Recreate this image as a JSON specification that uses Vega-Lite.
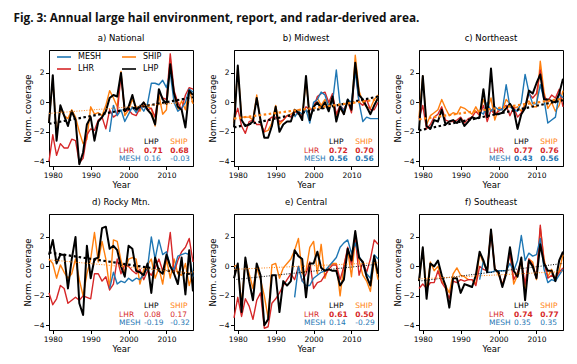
{
"$schema":"https://vega.github.io/schema/vega-lite/v6.json",
"padding":{"left":13,"top":13,"right":5,"bottom":3},
"title":{"text":"Fig. 3: Annual large hail environment, report, and radar-derived area.","anchor":"start","font":"Open Sans","fontSize":11.8,"fontWeight":"bold","color":"#111111","dx":-10,"offset":8},
"data":{"values":[
{"panel":"a","series":"LHP","year":1979,"value":-1.4},{"panel":"a","series":"LHP","year":1980,"value":1.85},{"panel":"a","series":"LHP","year":1981,"value":-2.6},{"panel":"a","series":"LHP","year":1982,"value":-0.2},{"panel":"a","series":"LHP","year":1983,"value":-0.9},{"panel":"a","series":"LHP","year":1984,"value":-1.6},{"panel":"a","series":"LHP","year":1985,"value":-0.6},{"panel":"a","series":"LHP","year":1986,"value":-1.2},{"panel":"a","series":"LHP","year":1987,"value":-4.2},{"panel":"a","series":"LHP","year":1988,"value":-3.4},{"panel":"a","series":"LHP","year":1989,"value":-1.5},{"panel":"a","series":"LHP","year":1990,"value":-1.0},{"panel":"a","series":"LHP","year":1991,"value":-2.6},{"panel":"a","series":"LHP","year":1992,"value":-1.3},{"panel":"a","series":"LHP","year":1993,"value":-1.0},{"panel":"a","series":"LHP","year":1994,"value":-0.6},{"panel":"a","series":"LHP","year":1995,"value":0.3},{"panel":"a","series":"LHP","year":1996,"value":0.5},{"panel":"a","series":"LHP","year":1997,"value":0.4},{"panel":"a","series":"LHP","year":1998,"value":2.0},{"panel":"a","series":"LHP","year":1999,"value":-0.6},{"panel":"a","series":"LHP","year":2000,"value":-0.3},{"panel":"a","series":"LHP","year":2001,"value":0.5},{"panel":"a","series":"LHP","year":2002,"value":-0.5},{"panel":"a","series":"LHP","year":2003,"value":-0.3},{"panel":"a","series":"LHP","year":2004,"value":0.0},{"panel":"a","series":"LHP","year":2005,"value":-0.5},{"panel":"a","series":"LHP","year":2006,"value":-0.8},{"panel":"a","series":"LHP","year":2007,"value":-1.5},{"panel":"a","series":"LHP","year":2008,"value":0.9},{"panel":"a","series":"LHP","year":2009,"value":0.2},{"panel":"a","series":"LHP","year":2010,"value":-0.1},{"panel":"a","series":"LHP","year":2011,"value":2.6},{"panel":"a","series":"LHP","year":2012,"value":0.6},{"panel":"a","series":"LHP","year":2013,"value":-0.3},{"panel":"a","series":"LHP","year":2014,"value":-0.5},{"panel":"a","series":"LHP","year":2015,"value":-1.7},{"panel":"a","series":"LHP","year":2016,"value":0.8},{"panel":"a","series":"LHP","year":2017,"value":0.5},
{"panel":"a","series":"SHIP","year":1979,"value":-1.3},{"panel":"a","series":"SHIP","year":1980,"value":1.6},{"panel":"a","series":"SHIP","year":1981,"value":-2.2},{"panel":"a","series":"SHIP","year":1982,"value":-0.4},{"panel":"a","series":"SHIP","year":1983,"value":-0.9},{"panel":"a","series":"SHIP","year":1984,"value":-1.1},{"panel":"a","series":"SHIP","year":1985,"value":-0.5},{"panel":"a","series":"SHIP","year":1986,"value":-1.0},{"panel":"a","series":"SHIP","year":1987,"value":-2.0},{"panel":"a","series":"SHIP","year":1988,"value":-2.8},{"panel":"a","series":"SHIP","year":1989,"value":-2.5},{"panel":"a","series":"SHIP","year":1990,"value":-0.3},{"panel":"a","series":"SHIP","year":1991,"value":-0.8},{"panel":"a","series":"SHIP","year":1992,"value":-0.7},{"panel":"a","series":"SHIP","year":1993,"value":-0.9},{"panel":"a","series":"SHIP","year":1994,"value":-0.2},{"panel":"a","series":"SHIP","year":1995,"value":0.8},{"panel":"a","series":"SHIP","year":1996,"value":0.3},{"panel":"a","series":"SHIP","year":1997,"value":-0.3},{"panel":"a","series":"SHIP","year":1998,"value":2.1},{"panel":"a","series":"SHIP","year":1999,"value":-0.9},{"panel":"a","series":"SHIP","year":2000,"value":-0.5},{"panel":"a","series":"SHIP","year":2001,"value":0.2},{"panel":"a","series":"SHIP","year":2002,"value":-0.3},{"panel":"a","series":"SHIP","year":2003,"value":-0.6},{"panel":"a","series":"SHIP","year":2004,"value":0.0},{"panel":"a","series":"SHIP","year":2005,"value":-0.3},{"panel":"a","series":"SHIP","year":2006,"value":-0.4},{"panel":"a","series":"SHIP","year":2007,"value":-1.6},{"panel":"a","series":"SHIP","year":2008,"value":0.5},{"panel":"a","series":"SHIP","year":2009,"value":-0.8},{"panel":"a","series":"SHIP","year":2010,"value":-0.5},{"panel":"a","series":"SHIP","year":2011,"value":3.0},{"panel":"a","series":"SHIP","year":2012,"value":0.5},{"panel":"a","series":"SHIP","year":2013,"value":-0.5},{"panel":"a","series":"SHIP","year":2014,"value":0.1},{"panel":"a","series":"SHIP","year":2015,"value":-0.5},{"panel":"a","series":"SHIP","year":2016,"value":0.9},{"panel":"a","series":"SHIP","year":2017,"value":-0.1},
{"panel":"a","series":"LHR","year":1979,"value":-4.0},{"panel":"a","series":"LHR","year":1980,"value":-2.2},{"panel":"a","series":"LHR","year":1981,"value":-3.6},{"panel":"a","series":"LHR","year":1982,"value":-2.8},{"panel":"a","series":"LHR","year":1983,"value":-3.1},{"panel":"a","series":"LHR","year":1984,"value":-3.1},{"panel":"a","series":"LHR","year":1985,"value":-2.5},{"panel":"a","series":"LHR","year":1986,"value":-2.6},{"panel":"a","series":"LHR","year":1987,"value":-4.1},{"panel":"a","series":"LHR","year":1988,"value":-3.8},{"panel":"a","series":"LHR","year":1989,"value":-2.2},{"panel":"a","series":"LHR","year":1990,"value":-1.8},{"panel":"a","series":"LHR","year":1991,"value":-1.9},{"panel":"a","series":"LHR","year":1992,"value":-1.2},{"panel":"a","series":"LHR","year":1993,"value":-1.0},{"panel":"a","series":"LHR","year":1994,"value":-1.8},{"panel":"a","series":"LHR","year":1995,"value":-0.5},{"panel":"a","series":"LHR","year":1996,"value":-1.0},{"panel":"a","series":"LHR","year":1997,"value":-0.8},{"panel":"a","series":"LHR","year":1998,"value":1.9},{"panel":"a","series":"LHR","year":1999,"value":-0.6},{"panel":"a","series":"LHR","year":2000,"value":-0.5},{"panel":"a","series":"LHR","year":2001,"value":-0.8},{"panel":"a","series":"LHR","year":2002,"value":-0.9},{"panel":"a","series":"LHR","year":2003,"value":-0.4},{"panel":"a","series":"LHR","year":2004,"value":-0.2},{"panel":"a","series":"LHR","year":2005,"value":-0.5},{"panel":"a","series":"LHR","year":2006,"value":-0.4},{"panel":"a","series":"LHR","year":2007,"value":-1.0},{"panel":"a","series":"LHR","year":2008,"value":0.7},{"panel":"a","series":"LHR","year":2009,"value":0.3},{"panel":"a","series":"LHR","year":2010,"value":0.2},{"panel":"a","series":"LHR","year":2011,"value":3.3},{"panel":"a","series":"LHR","year":2012,"value":0.8},{"panel":"a","series":"LHR","year":2013,"value":0.0},{"panel":"a","series":"LHR","year":2014,"value":-0.5},{"panel":"a","series":"LHR","year":2015,"value":0.5},{"panel":"a","series":"LHR","year":2016,"value":1.0},{"panel":"a","series":"LHR","year":2017,"value":0.9},
{"panel":"a","series":"MESH","year":1995,"value":-2.0},{"panel":"a","series":"MESH","year":1996,"value":-0.2},{"panel":"a","series":"MESH","year":1997,"value":-0.9},{"panel":"a","series":"MESH","year":1998,"value":-0.5},{"panel":"a","series":"MESH","year":1999,"value":-1.3},{"panel":"a","series":"MESH","year":2000,"value":-0.8},{"panel":"a","series":"MESH","year":2001,"value":-0.3},{"panel":"a","series":"MESH","year":2002,"value":-0.7},{"panel":"a","series":"MESH","year":2003,"value":-0.2},{"panel":"a","series":"MESH","year":2004,"value":-0.6},{"panel":"a","series":"MESH","year":2005,"value":-0.1},{"panel":"a","series":"MESH","year":2006,"value":1.3},{"panel":"a","series":"MESH","year":2007,"value":1.3},{"panel":"a","series":"MESH","year":2008,"value":1.2},{"panel":"a","series":"MESH","year":2009,"value":1.5},{"panel":"a","series":"MESH","year":2010,"value":1.0},{"panel":"a","series":"MESH","year":2011,"value":2.0},{"panel":"a","series":"MESH","year":2012,"value":0.0},{"panel":"a","series":"MESH","year":2013,"value":-0.6},{"panel":"a","series":"MESH","year":2014,"value":-0.4},{"panel":"a","series":"MESH","year":2015,"value":0.0},{"panel":"a","series":"MESH","year":2016,"value":0.9},{"panel":"a","series":"MESH","year":2017,"value":0.7},
{"panel":"b","series":"LHP","year":1979,"value":-1.7},{"panel":"b","series":"LHP","year":1980,"value":2.5},{"panel":"b","series":"LHP","year":1981,"value":-1.2},{"panel":"b","series":"LHP","year":1982,"value":-1.6},{"panel":"b","series":"LHP","year":1983,"value":-1.5},{"panel":"b","series":"LHP","year":1984,"value":-1.3},{"panel":"b","series":"LHP","year":1985,"value":0.3},{"panel":"b","series":"LHP","year":1986,"value":-1.2},{"panel":"b","series":"LHP","year":1987,"value":-2.4},{"panel":"b","series":"LHP","year":1988,"value":-2.4},{"panel":"b","series":"LHP","year":1989,"value":-1.6},{"panel":"b","series":"LHP","year":1990,"value":-0.3},{"panel":"b","series":"LHP","year":1991,"value":-2.0},{"panel":"b","series":"LHP","year":1992,"value":-1.5},{"panel":"b","series":"LHP","year":1993,"value":-1.3},{"panel":"b","series":"LHP","year":1994,"value":-1.3},{"panel":"b","series":"LHP","year":1995,"value":-0.5},{"panel":"b","series":"LHP","year":1996,"value":-0.7},{"panel":"b","series":"LHP","year":1997,"value":-1.2},{"panel":"b","series":"LHP","year":1998,"value":1.8},{"panel":"b","series":"LHP","year":1999,"value":-1.2},{"panel":"b","series":"LHP","year":2000,"value":-0.3},{"panel":"b","series":"LHP","year":2001,"value":0.0},{"panel":"b","series":"LHP","year":2002,"value":-0.4},{"panel":"b","series":"LHP","year":2003,"value":0.0},{"panel":"b","series":"LHP","year":2004,"value":-0.6},{"panel":"b","series":"LHP","year":2005,"value":0.4},{"panel":"b","series":"LHP","year":2006,"value":-1.3},{"panel":"b","series":"LHP","year":2007,"value":-0.3},{"panel":"b","series":"LHP","year":2008,"value":-0.8},{"panel":"b","series":"LHP","year":2009,"value":0.2},{"panel":"b","series":"LHP","year":2010,"value":-0.5},{"panel":"b","series":"LHP","year":2011,"value":2.7},{"panel":"b","series":"LHP","year":2012,"value":0.5},{"panel":"b","series":"LHP","year":2013,"value":0.2},{"panel":"b","series":"LHP","year":2014,"value":-0.3},{"panel":"b","series":"LHP","year":2015,"value":-0.8},{"panel":"b","series":"LHP","year":2016,"value":-0.2},{"panel":"b","series":"LHP","year":2017,"value":0.3},
{"panel":"b","series":"SHIP","year":1979,"value":-1.4},{"panel":"b","series":"SHIP","year":1980,"value":2.4},{"panel":"b","series":"SHIP","year":1981,"value":-1.0},{"panel":"b","series":"SHIP","year":1982,"value":-1.0},{"panel":"b","series":"SHIP","year":1983,"value":-1.0},{"panel":"b","series":"SHIP","year":1984,"value":-1.2},{"panel":"b","series":"SHIP","year":1985,"value":0.5},{"panel":"b","series":"SHIP","year":1986,"value":-1.4},{"panel":"b","series":"SHIP","year":1987,"value":-2.0},{"panel":"b","series":"SHIP","year":1988,"value":-1.9},{"panel":"b","series":"SHIP","year":1989,"value":-1.4},{"panel":"b","series":"SHIP","year":1990,"value":-0.2},{"panel":"b","series":"SHIP","year":1991,"value":-1.5},{"panel":"b","series":"SHIP","year":1992,"value":-1.2},{"panel":"b","series":"SHIP","year":1993,"value":-0.9},{"panel":"b","series":"SHIP","year":1994,"value":-0.8},{"panel":"b","series":"SHIP","year":1995,"value":-0.6},{"panel":"b","series":"SHIP","year":1996,"value":-0.5},{"panel":"b","series":"SHIP","year":1997,"value":-1.0},{"panel":"b","series":"SHIP","year":1998,"value":1.5},{"panel":"b","series":"SHIP","year":1999,"value":-1.1},{"panel":"b","series":"SHIP","year":2000,"value":-0.3},{"panel":"b","series":"SHIP","year":2001,"value":0.3},{"panel":"b","series":"SHIP","year":2002,"value":-0.2},{"panel":"b","series":"SHIP","year":2003,"value":0.2},{"panel":"b","series":"SHIP","year":2004,"value":-0.2},{"panel":"b","series":"SHIP","year":2005,"value":0.3},{"panel":"b","series":"SHIP","year":2006,"value":-0.9},{"panel":"b","series":"SHIP","year":2007,"value":-0.4},{"panel":"b","series":"SHIP","year":2008,"value":-0.8},{"panel":"b","series":"SHIP","year":2009,"value":0.1},{"panel":"b","series":"SHIP","year":2010,"value":-0.6},{"panel":"b","series":"SHIP","year":2011,"value":3.2},{"panel":"b","series":"SHIP","year":2012,"value":0.8},{"panel":"b","series":"SHIP","year":2013,"value":0.0},{"panel":"b","series":"SHIP","year":2014,"value":-0.3},{"panel":"b","series":"SHIP","year":2015,"value":-0.4},{"panel":"b","series":"SHIP","year":2016,"value":0.2},{"panel":"b","series":"SHIP","year":2017,"value":0.5},
{"panel":"b","series":"LHR","year":1979,"value":-1.2},{"panel":"b","series":"LHR","year":1980,"value":-0.4},{"panel":"b","series":"LHR","year":1981,"value":-1.6},{"panel":"b","series":"LHR","year":1982,"value":-2.1},{"panel":"b","series":"LHR","year":1983,"value":-1.3},{"panel":"b","series":"LHR","year":1984,"value":-1.2},{"panel":"b","series":"LHR","year":1985,"value":-1.5},{"panel":"b","series":"LHR","year":1986,"value":-1.5},{"panel":"b","series":"LHR","year":1987,"value":-2.0},{"panel":"b","series":"LHR","year":1988,"value":-1.2},{"panel":"b","series":"LHR","year":1989,"value":-1.0},{"panel":"b","series":"LHR","year":1990,"value":-1.0},{"panel":"b","series":"LHR","year":1991,"value":-1.3},{"panel":"b","series":"LHR","year":1992,"value":-1.2},{"panel":"b","series":"LHR","year":1993,"value":-0.9},{"panel":"b","series":"LHR","year":1994,"value":-1.0},{"panel":"b","series":"LHR","year":1995,"value":-0.6},{"panel":"b","series":"LHR","year":1996,"value":-0.8},{"panel":"b","series":"LHR","year":1997,"value":-0.9},{"panel":"b","series":"LHR","year":1998,"value":-0.3},{"panel":"b","series":"LHR","year":1999,"value":-0.5},{"panel":"b","series":"LHR","year":2000,"value":-0.4},{"panel":"b","series":"LHR","year":2001,"value":0.4},{"panel":"b","series":"LHR","year":2002,"value":0.6},{"panel":"b","series":"LHR","year":2003,"value":0.7},{"panel":"b","series":"LHR","year":2004,"value":0.0},{"panel":"b","series":"LHR","year":2005,"value":0.6},{"panel":"b","series":"LHR","year":2006,"value":-0.8},{"panel":"b","series":"LHR","year":2007,"value":-0.2},{"panel":"b","series":"LHR","year":2008,"value":-0.5},{"panel":"b","series":"LHR","year":2009,"value":0.1},{"panel":"b","series":"LHR","year":2010,"value":-0.7},{"panel":"b","series":"LHR","year":2011,"value":2.4},{"panel":"b","series":"LHR","year":2012,"value":0.0},{"panel":"b","series":"LHR","year":2013,"value":-0.2},{"panel":"b","series":"LHR","year":2014,"value":0.2},{"panel":"b","series":"LHR","year":2015,"value":-0.5},{"panel":"b","series":"LHR","year":2016,"value":-0.5},{"panel":"b","series":"LHR","year":2017,"value":0.0},
{"panel":"b","series":"MESH","year":1995,"value":-1.0},{"panel":"b","series":"MESH","year":1996,"value":-0.6},{"panel":"b","series":"MESH","year":1997,"value":-0.8},{"panel":"b","series":"MESH","year":1998,"value":-0.5},{"panel":"b","series":"MESH","year":1999,"value":-1.4},{"panel":"b","series":"MESH","year":2000,"value":0.0},{"panel":"b","series":"MESH","year":2001,"value":0.2},{"panel":"b","series":"MESH","year":2002,"value":0.7},{"panel":"b","series":"MESH","year":2003,"value":0.5},{"panel":"b","series":"MESH","year":2004,"value":-0.3},{"panel":"b","series":"MESH","year":2005,"value":0.0},{"panel":"b","series":"MESH","year":2006,"value":2.2},{"panel":"b","series":"MESH","year":2007,"value":-0.2},{"panel":"b","series":"MESH","year":2008,"value":-0.6},{"panel":"b","series":"MESH","year":2009,"value":0.2},{"panel":"b","series":"MESH","year":2010,"value":0.0},{"panel":"b","series":"MESH","year":2011,"value":2.1},{"panel":"b","series":"MESH","year":2012,"value":0.0},{"panel":"b","series":"MESH","year":2013,"value":-1.3},{"panel":"b","series":"MESH","year":2014,"value":-1.0},{"panel":"b","series":"MESH","year":2015,"value":-1.1},{"panel":"b","series":"MESH","year":2016,"value":-1.1},{"panel":"b","series":"MESH","year":2017,"value":-1.1},
{"panel":"c","series":"LHP","year":1979,"value":-1.9},{"panel":"c","series":"LHP","year":1980,"value":1.8},{"panel":"c","series":"LHP","year":1981,"value":-1.6},{"panel":"c","series":"LHP","year":1982,"value":-1.8},{"panel":"c","series":"LHP","year":1983,"value":-1.2},{"panel":"c","series":"LHP","year":1984,"value":-1.3},{"panel":"c","series":"LHP","year":1985,"value":-0.5},{"panel":"c","series":"LHP","year":1986,"value":-1.5},{"panel":"c","series":"LHP","year":1987,"value":-1.3},{"panel":"c","series":"LHP","year":1988,"value":-1.2},{"panel":"c","series":"LHP","year":1989,"value":-1.4},{"panel":"c","series":"LHP","year":1990,"value":-1.1},{"panel":"c","series":"LHP","year":1991,"value":-1.6},{"panel":"c","series":"LHP","year":1992,"value":-1.3},{"panel":"c","series":"LHP","year":1993,"value":-1.0},{"panel":"c","series":"LHP","year":1994,"value":-1.1},{"panel":"c","series":"LHP","year":1995,"value":-1.0},{"panel":"c","series":"LHP","year":1996,"value":0.9},{"panel":"c","series":"LHP","year":1997,"value":-1.0},{"panel":"c","series":"LHP","year":1998,"value":2.3},{"panel":"c","series":"LHP","year":1999,"value":-0.8},{"panel":"c","series":"LHP","year":2000,"value":-0.8},{"panel":"c","series":"LHP","year":2001,"value":-0.7},{"panel":"c","series":"LHP","year":2002,"value":-0.4},{"panel":"c","series":"LHP","year":2003,"value":-0.1},{"panel":"c","series":"LHP","year":2004,"value":-0.5},{"panel":"c","series":"LHP","year":2005,"value":-1.8},{"panel":"c","series":"LHP","year":2006,"value":-0.8},{"panel":"c","series":"LHP","year":2007,"value":-0.4},{"panel":"c","series":"LHP","year":2008,"value":0.8},{"panel":"c","series":"LHP","year":2009,"value":0.6},{"panel":"c","series":"LHP","year":2010,"value":1.3},{"panel":"c","series":"LHP","year":2011,"value":1.9},{"panel":"c","series":"LHP","year":2012,"value":0.2},{"panel":"c","series":"LHP","year":2013,"value":0.2},{"panel":"c","series":"LHP","year":2014,"value":0.1},{"panel":"c","series":"LHP","year":2015,"value":0.0},{"panel":"c","series":"LHP","year":2016,"value":0.6},{"panel":"c","series":"LHP","year":2017,"value":1.6},
{"panel":"c","series":"SHIP","year":1979,"value":-1.0},{"panel":"c","series":"SHIP","year":1980,"value":1.8},{"panel":"c","series":"SHIP","year":1981,"value":-1.5},{"panel":"c","series":"SHIP","year":1982,"value":-0.9},{"panel":"c","series":"SHIP","year":1983,"value":-0.7},{"panel":"c","series":"SHIP","year":1984,"value":-0.5},{"panel":"c","series":"SHIP","year":1985,"value":0.2},{"panel":"c","series":"SHIP","year":1986,"value":-0.4},{"panel":"c","series":"SHIP","year":1987,"value":-0.9},{"panel":"c","series":"SHIP","year":1988,"value":-0.7},{"panel":"c","series":"SHIP","year":1989,"value":-0.8},{"panel":"c","series":"SHIP","year":1990,"value":-0.3},{"panel":"c","series":"SHIP","year":1991,"value":-0.4},{"panel":"c","series":"SHIP","year":1992,"value":-0.6},{"panel":"c","series":"SHIP","year":1993,"value":-0.8},{"panel":"c","series":"SHIP","year":1994,"value":-0.3},{"panel":"c","series":"SHIP","year":1995,"value":-0.8},{"panel":"c","series":"SHIP","year":1996,"value":0.2},{"panel":"c","series":"SHIP","year":1997,"value":-0.5},{"panel":"c","series":"SHIP","year":1998,"value":0.3},{"panel":"c","series":"SHIP","year":1999,"value":-1.2},{"panel":"c","series":"SHIP","year":2000,"value":-0.4},{"panel":"c","series":"SHIP","year":2001,"value":-0.5},{"panel":"c","series":"SHIP","year":2002,"value":0.2},{"panel":"c","series":"SHIP","year":2003,"value":-0.1},{"panel":"c","series":"SHIP","year":2004,"value":-0.4},{"panel":"c","series":"SHIP","year":2005,"value":-0.3},{"panel":"c","series":"SHIP","year":2006,"value":-0.6},{"panel":"c","series":"SHIP","year":2007,"value":-0.1},{"panel":"c","series":"SHIP","year":2008,"value":0.1},{"panel":"c","series":"SHIP","year":2009,"value":-0.3},{"panel":"c","series":"SHIP","year":2010,"value":-0.3},{"panel":"c","series":"SHIP","year":2011,"value":2.8},{"panel":"c","series":"SHIP","year":2012,"value":0.7},{"panel":"c","series":"SHIP","year":2013,"value":-0.4},{"panel":"c","series":"SHIP","year":2014,"value":0.0},{"panel":"c","series":"SHIP","year":2015,"value":-0.6},{"panel":"c","series":"SHIP","year":2016,"value":-0.2},{"panel":"c","series":"SHIP","year":2017,"value":0.8},
{"panel":"c","series":"LHR","year":1979,"value":-1.1},{"panel":"c","series":"LHR","year":1980,"value":-0.2},{"panel":"c","series":"LHR","year":1981,"value":-1.8},{"panel":"c","series":"LHR","year":1982,"value":-1.5},{"panel":"c","series":"LHR","year":1983,"value":-1.0},{"panel":"c","series":"LHR","year":1984,"value":-0.8},{"panel":"c","series":"LHR","year":1985,"value":-0.3},{"panel":"c","series":"LHR","year":1986,"value":-1.2},{"panel":"c","series":"LHR","year":1987,"value":-1.3},{"panel":"c","series":"LHR","year":1988,"value":-1.3},{"panel":"c","series":"LHR","year":1989,"value":-1.2},{"panel":"c","series":"LHR","year":1990,"value":-1.0},{"panel":"c","series":"LHR","year":1991,"value":-1.4},{"panel":"c","series":"LHR","year":1992,"value":-1.1},{"panel":"c","series":"LHR","year":1993,"value":-1.0},{"panel":"c","series":"LHR","year":1994,"value":-0.6},{"panel":"c","series":"LHR","year":1995,"value":-0.9},{"panel":"c","series":"LHR","year":1996,"value":-0.2},{"panel":"c","series":"LHR","year":1997,"value":-1.3},{"panel":"c","series":"LHR","year":1998,"value":-0.5},{"panel":"c","series":"LHR","year":1999,"value":-0.8},{"panel":"c","series":"LHR","year":2000,"value":-0.6},{"panel":"c","series":"LHR","year":2001,"value":-0.4},{"panel":"c","series":"LHR","year":2002,"value":-0.2},{"panel":"c","series":"LHR","year":2003,"value":-0.9},{"panel":"c","series":"LHR","year":2004,"value":-0.3},{"panel":"c","series":"LHR","year":2005,"value":-1.0},{"panel":"c","series":"LHR","year":2006,"value":-0.7},{"panel":"c","series":"LHR","year":2007,"value":-0.3},{"panel":"c","series":"LHR","year":2008,"value":0.6},{"panel":"c","series":"LHR","year":2009,"value":0.3},{"panel":"c","series":"LHR","year":2010,"value":0.6},{"panel":"c","series":"LHR","year":2011,"value":2.2},{"panel":"c","series":"LHR","year":2012,"value":0.4},{"panel":"c","series":"LHR","year":2013,"value":0.1},{"panel":"c","series":"LHR","year":2014,"value":0.5},{"panel":"c","series":"LHR","year":2015,"value":0.3},{"panel":"c","series":"LHR","year":2016,"value":0.9},{"panel":"c","series":"LHR","year":2017,"value":-0.3},
{"panel":"c","series":"MESH","year":1995,"value":-0.6},{"panel":"c","series":"MESH","year":1996,"value":-0.8},{"panel":"c","series":"MESH","year":1997,"value":0.0},{"panel":"c","series":"MESH","year":1998,"value":-0.6},{"panel":"c","series":"MESH","year":1999,"value":-0.3},{"panel":"c","series":"MESH","year":2000,"value":-0.5},{"panel":"c","series":"MESH","year":2001,"value":-0.5},{"panel":"c","series":"MESH","year":2002,"value":1.2},{"panel":"c","series":"MESH","year":2003,"value":-0.3},{"panel":"c","series":"MESH","year":2004,"value":-0.5},{"panel":"c","series":"MESH","year":2005,"value":-0.6},{"panel":"c","series":"MESH","year":2006,"value":0.0},{"panel":"c","series":"MESH","year":2007,"value":1.9},{"panel":"c","series":"MESH","year":2008,"value":0.7},{"panel":"c","series":"MESH","year":2009,"value":-0.1},{"panel":"c","series":"MESH","year":2010,"value":-0.1},{"panel":"c","series":"MESH","year":2011,"value":1.2},{"panel":"c","series":"MESH","year":2012,"value":0.2},{"panel":"c","series":"MESH","year":2013,"value":-1.4},{"panel":"c","series":"MESH","year":2014,"value":-1.2},{"panel":"c","series":"MESH","year":2015,"value":-1.0},{"panel":"c","series":"MESH","year":2016,"value":0.6},{"panel":"c","series":"MESH","year":2017,"value":0.3},
{"panel":"d","series":"LHP","year":1979,"value":0.8},{"panel":"d","series":"LHP","year":1980,"value":1.8},{"panel":"d","series":"LHP","year":1981,"value":0.2},{"panel":"d","series":"LHP","year":1982,"value":0.8},{"panel":"d","series":"LHP","year":1983,"value":0.8},{"panel":"d","series":"LHP","year":1984,"value":-1.5},{"panel":"d","series":"LHP","year":1985,"value":0.5},{"panel":"d","series":"LHP","year":1986,"value":2.0},{"panel":"d","series":"LHP","year":1987,"value":-2.5},{"panel":"d","series":"LHP","year":1988,"value":-3.3},{"panel":"d","series":"LHP","year":1989,"value":1.4},{"panel":"d","series":"LHP","year":1990,"value":-0.8},{"panel":"d","series":"LHP","year":1991,"value":0.5},{"panel":"d","series":"LHP","year":1992,"value":0.6},{"panel":"d","series":"LHP","year":1993,"value":2.6},{"panel":"d","series":"LHP","year":1994,"value":2.7},{"panel":"d","series":"LHP","year":1995,"value":1.2},{"panel":"d","series":"LHP","year":1996,"value":1.4},{"panel":"d","series":"LHP","year":1997,"value":1.1},{"panel":"d","series":"LHP","year":1998,"value":0.0},{"panel":"d","series":"LHP","year":1999,"value":-0.7},{"panel":"d","series":"LHP","year":2000,"value":1.4},{"panel":"d","series":"LHP","year":2001,"value":1.2},{"panel":"d","series":"LHP","year":2002,"value":-0.3},{"panel":"d","series":"LHP","year":2003,"value":-0.4},{"panel":"d","series":"LHP","year":2004,"value":-0.6},{"panel":"d","series":"LHP","year":2005,"value":0.2},{"panel":"d","series":"LHP","year":2006,"value":-1.8},{"panel":"d","series":"LHP","year":2007,"value":0.6},{"panel":"d","series":"LHP","year":2008,"value":-0.3},{"panel":"d","series":"LHP","year":2009,"value":-0.5},{"panel":"d","series":"LHP","year":2010,"value":0.8},{"panel":"d","series":"LHP","year":2011,"value":0.0},{"panel":"d","series":"LHP","year":2012,"value":-0.5},{"panel":"d","series":"LHP","year":2013,"value":-1.2},{"panel":"d","series":"LHP","year":2014,"value":0.6},{"panel":"d","series":"LHP","year":2015,"value":-1.9},{"panel":"d","series":"LHP","year":2016,"value":1.1},{"panel":"d","series":"LHP","year":2017,"value":-1.7},
{"panel":"d","series":"SHIP","year":1979,"value":0.5},{"panel":"d","series":"SHIP","year":1980,"value":0.2},{"panel":"d","series":"SHIP","year":1981,"value":-0.8},{"panel":"d","series":"SHIP","year":1982,"value":0.1},{"panel":"d","series":"SHIP","year":1983,"value":-0.4},{"panel":"d","series":"SHIP","year":1984,"value":-0.8},{"panel":"d","series":"SHIP","year":1985,"value":-0.5},{"panel":"d","series":"SHIP","year":1986,"value":0.5},{"panel":"d","series":"SHIP","year":1987,"value":-0.9},{"panel":"d","series":"SHIP","year":1988,"value":-2.0},{"panel":"d","series":"SHIP","year":1989,"value":-0.5},{"panel":"d","series":"SHIP","year":1990,"value":0.5},{"panel":"d","series":"SHIP","year":1991,"value":2.3},{"panel":"d","series":"SHIP","year":1992,"value":0.3},{"panel":"d","series":"SHIP","year":1993,"value":1.7},{"panel":"d","series":"SHIP","year":1994,"value":0.5},{"panel":"d","series":"SHIP","year":1995,"value":-1.5},{"panel":"d","series":"SHIP","year":1996,"value":1.8},{"panel":"d","series":"SHIP","year":1997,"value":1.7},{"panel":"d","series":"SHIP","year":1998,"value":0.4},{"panel":"d","series":"SHIP","year":1999,"value":-0.4},{"panel":"d","series":"SHIP","year":2000,"value":0.5},{"panel":"d","series":"SHIP","year":2001,"value":0.6},{"panel":"d","series":"SHIP","year":2002,"value":0.5},{"panel":"d","series":"SHIP","year":2003,"value":-1.2},{"panel":"d","series":"SHIP","year":2004,"value":-0.2},{"panel":"d","series":"SHIP","year":2005,"value":0.1},{"panel":"d","series":"SHIP","year":2006,"value":0.5},{"panel":"d","series":"SHIP","year":2007,"value":-0.8},{"panel":"d","series":"SHIP","year":2008,"value":-0.1},{"panel":"d","series":"SHIP","year":2009,"value":-1.2},{"panel":"d","series":"SHIP","year":2010,"value":0.5},{"panel":"d","series":"SHIP","year":2011,"value":-0.8},{"panel":"d","series":"SHIP","year":2012,"value":0.5},{"panel":"d","series":"SHIP","year":2013,"value":-0.5},{"panel":"d","series":"SHIP","year":2014,"value":-0.6},{"panel":"d","series":"SHIP","year":2015,"value":0.2},{"panel":"d","series":"SHIP","year":2016,"value":-1.3},{"panel":"d","series":"SHIP","year":2017,"value":-0.3},
{"panel":"d","series":"LHR","year":1979,"value":-1.8},{"panel":"d","series":"LHR","year":1980,"value":-2.6},{"panel":"d","series":"LHR","year":1981,"value":-2.2},{"panel":"d","series":"LHR","year":1982,"value":-1.3},{"panel":"d","series":"LHR","year":1983,"value":-1.5},{"panel":"d","series":"LHR","year":1984,"value":-2.5},{"panel":"d","series":"LHR","year":1985,"value":-2.3},{"panel":"d","series":"LHR","year":1986,"value":-2.1},{"panel":"d","series":"LHR","year":1987,"value":-2.3},{"panel":"d","series":"LHR","year":1988,"value":-2.0},{"panel":"d","series":"LHR","year":1989,"value":-2.1},{"panel":"d","series":"LHR","year":1990,"value":-2.2},{"panel":"d","series":"LHR","year":1991,"value":-0.5},{"panel":"d","series":"LHR","year":1992,"value":-0.5},{"panel":"d","series":"LHR","year":1993,"value":-1.0},{"panel":"d","series":"LHR","year":1994,"value":-0.7},{"panel":"d","series":"LHR","year":1995,"value":-1.6},{"panel":"d","series":"LHR","year":1996,"value":-1.2},{"panel":"d","series":"LHR","year":1997,"value":0.5},{"panel":"d","series":"LHR","year":1998,"value":-0.5},{"panel":"d","series":"LHR","year":1999,"value":0.1},{"panel":"d","series":"LHR","year":2000,"value":0.0},{"panel":"d","series":"LHR","year":2001,"value":-0.3},{"panel":"d","series":"LHR","year":2002,"value":-0.5},{"panel":"d","series":"LHR","year":2003,"value":-0.2},{"panel":"d","series":"LHR","year":2004,"value":-0.9},{"panel":"d","series":"LHR","year":2005,"value":-0.3},{"panel":"d","series":"LHR","year":2006,"value":-0.6},{"panel":"d","series":"LHR","year":2007,"value":-0.1},{"panel":"d","series":"LHR","year":2008,"value":0.5},{"panel":"d","series":"LHR","year":2009,"value":-0.3},{"panel":"d","series":"LHR","year":2010,"value":0.5},{"panel":"d","series":"LHR","year":2011,"value":2.3},{"panel":"d","series":"LHR","year":2012,"value":-0.4},{"panel":"d","series":"LHR","year":2013,"value":0.4},{"panel":"d","series":"LHR","year":2014,"value":1.0},{"panel":"d","series":"LHR","year":2015,"value":1.3},{"panel":"d","series":"LHR","year":2016,"value":1.9},{"panel":"d","series":"LHR","year":2017,"value":0.3},
{"panel":"d","series":"MESH","year":1995,"value":-1.5},{"panel":"d","series":"MESH","year":1996,"value":-0.4},{"panel":"d","series":"MESH","year":1997,"value":-1.2},{"panel":"d","series":"MESH","year":1998,"value":-1.0},{"panel":"d","series":"MESH","year":1999,"value":-1.1},{"panel":"d","series":"MESH","year":2000,"value":-0.8},{"panel":"d","series":"MESH","year":2001,"value":-1.0},{"panel":"d","series":"MESH","year":2002,"value":-0.8},{"panel":"d","series":"MESH","year":2003,"value":-0.9},{"panel":"d","series":"MESH","year":2004,"value":-0.5},{"panel":"d","series":"MESH","year":2005,"value":-0.1},{"panel":"d","series":"MESH","year":2006,"value":2.0},{"panel":"d","series":"MESH","year":2007,"value":0.5},{"panel":"d","series":"MESH","year":2008,"value":1.8},{"panel":"d","series":"MESH","year":2009,"value":0.8},{"panel":"d","series":"MESH","year":2010,"value":1.0},{"panel":"d","series":"MESH","year":2011,"value":0.0},{"panel":"d","series":"MESH","year":2012,"value":-0.2},{"panel":"d","series":"MESH","year":2013,"value":0.7},{"panel":"d","series":"MESH","year":2014,"value":0.8},{"panel":"d","series":"MESH","year":2015,"value":0.9},{"panel":"d","series":"MESH","year":2016,"value":0.8},{"panel":"d","series":"MESH","year":2017,"value":-0.7},
{"panel":"e","series":"LHP","year":1979,"value":-0.8},{"panel":"e","series":"LHP","year":1980,"value":0.2},{"panel":"e","series":"LHP","year":1981,"value":-3.1},{"panel":"e","series":"LHP","year":1982,"value":0.6},{"panel":"e","series":"LHP","year":1983,"value":-1.0},{"panel":"e","series":"LHP","year":1984,"value":-2.3},{"panel":"e","series":"LHP","year":1985,"value":0.2},{"panel":"e","series":"LHP","year":1986,"value":-0.6},{"panel":"e","series":"LHP","year":1987,"value":-4.0},{"panel":"e","series":"LHP","year":1988,"value":-3.6},{"panel":"e","series":"LHP","year":1989,"value":-0.6},{"panel":"e","series":"LHP","year":1990,"value":-0.6},{"panel":"e","series":"LHP","year":1991,"value":-3.1},{"panel":"e","series":"LHP","year":1992,"value":-1.0},{"panel":"e","series":"LHP","year":1993,"value":-1.3},{"panel":"e","series":"LHP","year":1994,"value":-1.0},{"panel":"e","series":"LHP","year":1995,"value":1.1},{"panel":"e","series":"LHP","year":1996,"value":0.7},{"panel":"e","series":"LHP","year":1997,"value":0.5},{"panel":"e","series":"LHP","year":1998,"value":-2.1},{"panel":"e","series":"LHP","year":1999,"value":0.2},{"panel":"e","series":"LHP","year":2000,"value":0.2},{"panel":"e","series":"LHP","year":2001,"value":1.0},{"panel":"e","series":"LHP","year":2002,"value":-0.1},{"panel":"e","series":"LHP","year":2003,"value":-0.3},{"panel":"e","series":"LHP","year":2004,"value":-0.2},{"panel":"e","series":"LHP","year":2005,"value":-0.3},{"panel":"e","series":"LHP","year":2006,"value":-0.3},{"panel":"e","series":"LHP","year":2007,"value":-1.3},{"panel":"e","series":"LHP","year":2008,"value":-0.9},{"panel":"e","series":"LHP","year":2009,"value":1.2},{"panel":"e","series":"LHP","year":2010,"value":0.4},{"panel":"e","series":"LHP","year":2011,"value":2.4},{"panel":"e","series":"LHP","year":2012,"value":0.6},{"panel":"e","series":"LHP","year":2013,"value":0.3},{"panel":"e","series":"LHP","year":2014,"value":-0.7},{"panel":"e","series":"LHP","year":2015,"value":-1.3},{"panel":"e","series":"LHP","year":2016,"value":0.7},{"panel":"e","series":"LHP","year":2017,"value":-0.5},
{"panel":"e","series":"SHIP","year":1979,"value":0.0},{"panel":"e","series":"SHIP","year":1980,"value":0.1},{"panel":"e","series":"SHIP","year":1981,"value":-2.6},{"panel":"e","series":"SHIP","year":1982,"value":0.4},{"panel":"e","series":"SHIP","year":1983,"value":-0.5},{"panel":"e","series":"SHIP","year":1984,"value":-1.5},{"panel":"e","series":"SHIP","year":1985,"value":-0.1},{"panel":"e","series":"SHIP","year":1986,"value":-0.9},{"panel":"e","series":"SHIP","year":1987,"value":-2.0},{"panel":"e","series":"SHIP","year":1988,"value":-3.5},{"panel":"e","series":"SHIP","year":1989,"value":0.1},{"panel":"e","series":"SHIP","year":1990,"value":0.2},{"panel":"e","series":"SHIP","year":1991,"value":-0.8},{"panel":"e","series":"SHIP","year":1992,"value":-0.1},{"panel":"e","series":"SHIP","year":1993,"value":0.2},{"panel":"e","series":"SHIP","year":1994,"value":0.5},{"panel":"e","series":"SHIP","year":1995,"value":1.1},{"panel":"e","series":"SHIP","year":1996,"value":1.9},{"panel":"e","series":"SHIP","year":1997,"value":-0.5},{"panel":"e","series":"SHIP","year":1998,"value":-0.3},{"panel":"e","series":"SHIP","year":1999,"value":1.3},{"panel":"e","series":"SHIP","year":2000,"value":1.7},{"panel":"e","series":"SHIP","year":2001,"value":-0.5},{"panel":"e","series":"SHIP","year":2002,"value":1.5},{"panel":"e","series":"SHIP","year":2003,"value":-0.8},{"panel":"e","series":"SHIP","year":2004,"value":0.0},{"panel":"e","series":"SHIP","year":2005,"value":0.2},{"panel":"e","series":"SHIP","year":2006,"value":0.2},{"panel":"e","series":"SHIP","year":2007,"value":-2.0},{"panel":"e","series":"SHIP","year":2008,"value":0.1},{"panel":"e","series":"SHIP","year":2009,"value":1.1},{"panel":"e","series":"SHIP","year":2010,"value":-0.7},{"panel":"e","series":"SHIP","year":2011,"value":1.8},{"panel":"e","series":"SHIP","year":2012,"value":0.4},{"panel":"e","series":"SHIP","year":2013,"value":-0.6},{"panel":"e","series":"SHIP","year":2014,"value":-1.0},{"panel":"e","series":"SHIP","year":2015,"value":-1.7},{"panel":"e","series":"SHIP","year":2016,"value":0.5},{"panel":"e","series":"SHIP","year":2017,"value":-0.9},
{"panel":"e","series":"LHR","year":1979,"value":-3.5},{"panel":"e","series":"LHR","year":1980,"value":-2.1},{"panel":"e","series":"LHR","year":1981,"value":-3.4},{"panel":"e","series":"LHR","year":1982,"value":-2.2},{"panel":"e","series":"LHR","year":1983,"value":-2.7},{"panel":"e","series":"LHR","year":1984,"value":-3.6},{"panel":"e","series":"LHR","year":1985,"value":-2.3},{"panel":"e","series":"LHR","year":1986,"value":-1.8},{"panel":"e","series":"LHR","year":1987,"value":-4.2},{"panel":"e","series":"LHR","year":1988,"value":-4.1},{"panel":"e","series":"LHR","year":1989,"value":-2.5},{"panel":"e","series":"LHR","year":1990,"value":-2.2},{"panel":"e","series":"LHR","year":1991,"value":-1.8},{"panel":"e","series":"LHR","year":1992,"value":-1.3},{"panel":"e","series":"LHR","year":1993,"value":-0.9},{"panel":"e","series":"LHR","year":1994,"value":-0.5},{"panel":"e","series":"LHR","year":1995,"value":-0.9},{"panel":"e","series":"LHR","year":1996,"value":0.0},{"panel":"e","series":"LHR","year":1997,"value":-1.0},{"panel":"e","series":"LHR","year":1998,"value":-0.5},{"panel":"e","series":"LHR","year":1999,"value":0.3},{"panel":"e","series":"LHR","year":2000,"value":-1.5},{"panel":"e","series":"LHR","year":2001,"value":-1.1},{"panel":"e","series":"LHR","year":2002,"value":-1.0},{"panel":"e","series":"LHR","year":2003,"value":-0.6},{"panel":"e","series":"LHR","year":2004,"value":-0.2},{"panel":"e","series":"LHR","year":2005,"value":0.1},{"panel":"e","series":"LHR","year":2006,"value":0.1},{"panel":"e","series":"LHR","year":2007,"value":-0.9},{"panel":"e","series":"LHR","year":2008,"value":0.0},{"panel":"e","series":"LHR","year":2009,"value":1.3},{"panel":"e","series":"LHR","year":2010,"value":0.1},{"panel":"e","series":"LHR","year":2011,"value":2.0},{"panel":"e","series":"LHR","year":2012,"value":-0.6},{"panel":"e","series":"LHR","year":2013,"value":0.3},{"panel":"e","series":"LHR","year":2014,"value":-0.4},{"panel":"e","series":"LHR","year":2015,"value":0.5},{"panel":"e","series":"LHR","year":2016,"value":1.8},{"panel":"e","series":"LHR","year":2017,"value":1.5},
{"panel":"e","series":"MESH","year":1995,"value":-2.1},{"panel":"e","series":"MESH","year":1996,"value":0.0},{"panel":"e","series":"MESH","year":1997,"value":-1.0},{"panel":"e","series":"MESH","year":1998,"value":-1.3},{"panel":"e","series":"MESH","year":1999,"value":-1.3},{"panel":"e","series":"MESH","year":2000,"value":-0.8},{"panel":"e","series":"MESH","year":2001,"value":-0.6},{"panel":"e","series":"MESH","year":2002,"value":-0.4},{"panel":"e","series":"MESH","year":2003,"value":-0.3},{"panel":"e","series":"MESH","year":2004,"value":0.0},{"panel":"e","series":"MESH","year":2005,"value":0.3},{"panel":"e","series":"MESH","year":2006,"value":0.6},{"panel":"e","series":"MESH","year":2007,"value":1.3},{"panel":"e","series":"MESH","year":2008,"value":1.6},{"panel":"e","series":"MESH","year":2009,"value":1.8},{"panel":"e","series":"MESH","year":2010,"value":0.9},{"panel":"e","series":"MESH","year":2011,"value":1.6},{"panel":"e","series":"MESH","year":2012,"value":0.7},{"panel":"e","series":"MESH","year":2013,"value":0.2},{"panel":"e","series":"MESH","year":2014,"value":-0.5},{"panel":"e","series":"MESH","year":2015,"value":-0.8},{"panel":"e","series":"MESH","year":2016,"value":0.8},{"panel":"e","series":"MESH","year":2017,"value":0.5},
{"panel":"f","series":"LHP","year":1979,"value":-1.0},{"panel":"f","series":"LHP","year":1980,"value":1.3},{"panel":"f","series":"LHP","year":1981,"value":-2.2},{"panel":"f","series":"LHP","year":1982,"value":0.2},{"panel":"f","series":"LHP","year":1983,"value":0.0},{"panel":"f","series":"LHP","year":1984,"value":0.4},{"panel":"f","series":"LHP","year":1985,"value":-0.6},{"panel":"f","series":"LHP","year":1986,"value":-1.3},{"panel":"f","series":"LHP","year":1987,"value":-2.8},{"panel":"f","series":"LHP","year":1988,"value":-0.8},{"panel":"f","series":"LHP","year":1989,"value":-0.8},{"panel":"f","series":"LHP","year":1990,"value":-1.8},{"panel":"f","series":"LHP","year":1991,"value":-1.2},{"panel":"f","series":"LHP","year":1992,"value":-1.3},{"panel":"f","series":"LHP","year":1993,"value":-1.4},{"panel":"f","series":"LHP","year":1994,"value":-0.6},{"panel":"f","series":"LHP","year":1995,"value":1.0},{"panel":"f","series":"LHP","year":1996,"value":0.4},{"panel":"f","series":"LHP","year":1997,"value":-0.4},{"panel":"f","series":"LHP","year":1998,"value":2.5},{"panel":"f","series":"LHP","year":1999,"value":-0.2},{"panel":"f","series":"LHP","year":2000,"value":-0.4},{"panel":"f","series":"LHP","year":2001,"value":-1.4},{"panel":"f","series":"LHP","year":2002,"value":-0.5},{"panel":"f","series":"LHP","year":2003,"value":1.3},{"panel":"f","series":"LHP","year":2004,"value":-0.3},{"panel":"f","series":"LHP","year":2005,"value":-0.7},{"panel":"f","series":"LHP","year":2006,"value":0.6},{"panel":"f","series":"LHP","year":2007,"value":-2.3},{"panel":"f","series":"LHP","year":2008,"value":0.4},{"panel":"f","series":"LHP","year":2009,"value":0.0},{"panel":"f","series":"LHP","year":2010,"value":-0.8},{"panel":"f","series":"LHP","year":2011,"value":1.5},{"panel":"f","series":"LHP","year":2012,"value":0.2},{"panel":"f","series":"LHP","year":2013,"value":-0.3},{"panel":"f","series":"LHP","year":2014,"value":-0.3},{"panel":"f","series":"LHP","year":2015,"value":-1.0},{"panel":"f","series":"LHP","year":2016,"value":0.4},{"panel":"f","series":"LHP","year":2017,"value":1.0},
{"panel":"f","series":"SHIP","year":1979,"value":-1.0},{"panel":"f","series":"SHIP","year":1980,"value":1.2},{"panel":"f","series":"SHIP","year":1981,"value":-1.7},{"panel":"f","series":"SHIP","year":1982,"value":0.3},{"panel":"f","series":"SHIP","year":1983,"value":-0.3},{"panel":"f","series":"SHIP","year":1984,"value":0.0},{"panel":"f","series":"SHIP","year":1985,"value":-1.0},{"panel":"f","series":"SHIP","year":1986,"value":-1.3},{"panel":"f","series":"SHIP","year":1987,"value":-1.8},{"panel":"f","series":"SHIP","year":1988,"value":-0.5},{"panel":"f","series":"SHIP","year":1989,"value":-0.1},{"panel":"f","series":"SHIP","year":1990,"value":-0.6},{"panel":"f","series":"SHIP","year":1991,"value":-0.7},{"panel":"f","series":"SHIP","year":1992,"value":-0.9},{"panel":"f","series":"SHIP","year":1993,"value":-0.9},{"panel":"f","series":"SHIP","year":1994,"value":-1.2},{"panel":"f","series":"SHIP","year":1995,"value":0.9},{"panel":"f","series":"SHIP","year":1996,"value":0.2},{"panel":"f","series":"SHIP","year":1997,"value":-0.3},{"panel":"f","series":"SHIP","year":1998,"value":2.5},{"panel":"f","series":"SHIP","year":1999,"value":-0.1},{"panel":"f","series":"SHIP","year":2000,"value":-0.6},{"panel":"f","series":"SHIP","year":2001,"value":-1.2},{"panel":"f","series":"SHIP","year":2002,"value":-0.5},{"panel":"f","series":"SHIP","year":2003,"value":1.0},{"panel":"f","series":"SHIP","year":2004,"value":-1.2},{"panel":"f","series":"SHIP","year":2005,"value":-0.6},{"panel":"f","series":"SHIP","year":2006,"value":0.3},{"panel":"f","series":"SHIP","year":2007,"value":-1.6},{"panel":"f","series":"SHIP","year":2008,"value":0.5},{"panel":"f","series":"SHIP","year":2009,"value":0.3},{"panel":"f","series":"SHIP","year":2010,"value":-0.9},{"panel":"f","series":"SHIP","year":2011,"value":2.6},{"panel":"f","series":"SHIP","year":2012,"value":0.5},{"panel":"f","series":"SHIP","year":2013,"value":-0.7},{"panel":"f","series":"SHIP","year":2014,"value":-0.2},{"panel":"f","series":"SHIP","year":2015,"value":-0.9},{"panel":"f","series":"SHIP","year":2016,"value":-0.3},{"panel":"f","series":"SHIP","year":2017,"value":0.8},
{"panel":"f","series":"LHR","year":1979,"value":-1.5},{"panel":"f","series":"LHR","year":1980,"value":-1.2},{"panel":"f","series":"LHR","year":1981,"value":-1.5},{"panel":"f","series":"LHR","year":1982,"value":-1.1},{"panel":"f","series":"LHR","year":1983,"value":-1.1},{"panel":"f","series":"LHR","year":1984,"value":-0.3},{"panel":"f","series":"LHR","year":1985,"value":-1.1},{"panel":"f","series":"LHR","year":1986,"value":-1.5},{"panel":"f","series":"LHR","year":1987,"value":-2.2},{"panel":"f","series":"LHR","year":1988,"value":-1.0},{"panel":"f","series":"LHR","year":1989,"value":-1.1},{"panel":"f","series":"LHR","year":1990,"value":-0.9},{"panel":"f","series":"LHR","year":1991,"value":-1.0},{"panel":"f","series":"LHR","year":1992,"value":-0.9},{"panel":"f","series":"LHR","year":1993,"value":-0.9},{"panel":"f","series":"LHR","year":1994,"value":-1.3},{"panel":"f","series":"LHR","year":1995,"value":0.0},{"panel":"f","series":"LHR","year":1996,"value":-0.2},{"panel":"f","series":"LHR","year":1997,"value":-0.3},{"panel":"f","series":"LHR","year":1998,"value":2.4},{"panel":"f","series":"LHR","year":1999,"value":-0.2},{"panel":"f","series":"LHR","year":2000,"value":-0.4},{"panel":"f","series":"LHR","year":2001,"value":-1.3},{"panel":"f","series":"LHR","year":2002,"value":-0.4},{"panel":"f","series":"LHR","year":2003,"value":0.9},{"panel":"f","series":"LHR","year":2004,"value":-0.9},{"panel":"f","series":"LHR","year":2005,"value":-0.4},{"panel":"f","series":"LHR","year":2006,"value":0.4},{"panel":"f","series":"LHR","year":2007,"value":-1.2},{"panel":"f","series":"LHR","year":2008,"value":0.5},{"panel":"f","series":"LHR","year":2009,"value":0.1},{"panel":"f","series":"LHR","year":2010,"value":-0.8},{"panel":"f","series":"LHR","year":2011,"value":2.8},{"panel":"f","series":"LHR","year":2012,"value":0.3},{"panel":"f","series":"LHR","year":2013,"value":-0.8},{"panel":"f","series":"LHR","year":2014,"value":-0.6},{"panel":"f","series":"LHR","year":2015,"value":-0.8},{"panel":"f","series":"LHR","year":2016,"value":-0.4},{"panel":"f","series":"LHR","year":2017,"value":-0.1},
{"panel":"f","series":"MESH","year":1995,"value":-0.9},{"panel":"f","series":"MESH","year":1996,"value":0.4},{"panel":"f","series":"MESH","year":1997,"value":-0.4},{"panel":"f","series":"MESH","year":1998,"value":-0.4},{"panel":"f","series":"MESH","year":1999,"value":-0.3},{"panel":"f","series":"MESH","year":2000,"value":-0.3},{"panel":"f","series":"MESH","year":2001,"value":-0.3},{"panel":"f","series":"MESH","year":2002,"value":-0.3},{"panel":"f","series":"MESH","year":2003,"value":0.2},{"panel":"f","series":"MESH","year":2004,"value":-0.3},{"panel":"f","series":"MESH","year":2005,"value":0.4},{"panel":"f","series":"MESH","year":2006,"value":2.1},{"panel":"f","series":"MESH","year":2007,"value":0.4},{"panel":"f","series":"MESH","year":2008,"value":0.9},{"panel":"f","series":"MESH","year":2009,"value":0.7},{"panel":"f","series":"MESH","year":2010,"value":0.8},{"panel":"f","series":"MESH","year":2011,"value":1.9},{"panel":"f","series":"MESH","year":2012,"value":-0.2},{"panel":"f","series":"MESH","year":2013,"value":-1.1},{"panel":"f","series":"MESH","year":2014,"value":-0.9},{"panel":"f","series":"MESH","year":2015,"value":-1.0},{"panel":"f","series":"MESH","year":2016,"value":-0.6},{"panel":"f","series":"MESH","year":2017,"value":-0.2},
{"panel":"a","kind":"trend","series":"LHP","year":1979,"value":-1.45,"sig":true},{"panel":"a","kind":"trend","series":"LHP","year":2017,"value":0.35,"sig":true},
{"panel":"a","kind":"trend","series":"SHIP","year":1979,"value":-0.75,"sig":false},{"panel":"a","kind":"trend","series":"SHIP","year":2017,"value":0.05,"sig":false},
{"panel":"b","kind":"trend","series":"LHP","year":1979,"value":-1.7,"sig":true},{"panel":"b","kind":"trend","series":"LHP","year":2017,"value":0.4,"sig":true},
{"panel":"b","kind":"trend","series":"SHIP","year":1979,"value":-1.1,"sig":true},{"panel":"b","kind":"trend","series":"SHIP","year":2017,"value":0.2,"sig":true},
{"panel":"c","kind":"trend","series":"LHP","year":1979,"value":-1.9,"sig":true},{"panel":"c","kind":"trend","series":"LHP","year":2017,"value":0.15,"sig":true},
{"panel":"c","kind":"trend","series":"SHIP","year":1979,"value":-1.15,"sig":true},{"panel":"c","kind":"trend","series":"SHIP","year":2017,"value":0.25,"sig":true},
{"panel":"d","kind":"trend","series":"LHP","year":1979,"value":0.95,"sig":true},{"panel":"d","kind":"trend","series":"LHP","year":2017,"value":-0.55,"sig":true},
{"panel":"d","kind":"trend","series":"SHIP","year":1979,"value":0.45,"sig":false},{"panel":"d","kind":"trend","series":"SHIP","year":2017,"value":-0.45,"sig":false},
{"panel":"e","kind":"trend","series":"LHP","year":1979,"value":-0.9,"sig":false},{"panel":"e","kind":"trend","series":"LHP","year":2017,"value":0.15,"sig":false},
{"panel":"e","kind":"trend","series":"SHIP","year":1979,"value":-0.2,"sig":false},{"panel":"e","kind":"trend","series":"SHIP","year":2017,"value":0.25,"sig":false},
{"panel":"f","kind":"trend","series":"LHP","year":1979,"value":-1.0,"sig":false},{"panel":"f","kind":"trend","series":"LHP","year":2017,"value":0.2,"sig":false},
{"panel":"f","kind":"trend","series":"SHIP","year":1979,"value":-0.85,"sig":false},{"panel":"f","kind":"trend","series":"SHIP","year":2017,"value":-0.35,"sig":false},
{"panel":"a","kind":"ann","series":"LHR","r1":"0.71","r2":"0.68","b1":true,"b2":true},{"panel":"a","kind":"ann","series":"MESH","r1":"0.16","r2":"-0.03","b1":false,"b2":false},
{"panel":"b","kind":"ann","series":"LHR","r1":"0.72","r2":"0.70","b1":true,"b2":true},{"panel":"b","kind":"ann","series":"MESH","r1":"0.56","r2":"0.56","b1":true,"b2":true},
{"panel":"c","kind":"ann","series":"LHR","r1":"0.77","r2":"0.76","b1":true,"b2":true},{"panel":"c","kind":"ann","series":"MESH","r1":"0.43","r2":"0.56","b1":true,"b2":true},
{"panel":"d","kind":"ann","series":"LHR","r1":"0.08","r2":"0.17","b1":false,"b2":false},{"panel":"d","kind":"ann","series":"MESH","r1":"-0.19","r2":"-0.32","b1":false,"b2":false},
{"panel":"e","kind":"ann","series":"LHR","r1":"0.61","r2":"0.50","b1":true,"b2":true},{"panel":"e","kind":"ann","series":"MESH","r1":"0.14","r2":"-0.29","b1":false,"b2":false},
{"panel":"f","kind":"ann","series":"LHR","r1":"0.74","r2":"0.77","b1":true,"b2":true},{"panel":"f","kind":"ann","series":"MESH","r1":"0.35","r2":"0.35","b1":false,"b2":false}
]},
"facet":{"field":"panel","type":"nominal","header":{"title":null,"labelExpr":"{'a':'a) National','b':'b) Midwest','c':'c) Northeast','d':'d) Rocky Mtn.','e':'e) Central','f':'f) Southeast'}[datum.value]","labelFont":"DejaVu Sans","labelFontSize":8.5,"labelPadding":8,"labelColor":"black"}},
"columns":3,
"spacing":{"row":7,"column":10},
"resolve":{"axis":{"x":"independent","y":"independent"}},
"spec":{
"width":144,"height":116,
"layer":[
{"transform":[{"filter":"!datum.kind && datum.series != 'LHP'"}],
 "mark":{"type":"line","strokeWidth":1.4,"strokeJoin":"round"},
 "encoding":{
  "x":{"field":"year","type":"quantitative","scale":{"domain":[1979,2017],"nice":false,"zero":false},"axis":{"values":[1980,1990,2000,2010],"tickCount":6,"format":"d","title":"Year"}},
  "y":{"field":"value","type":"quantitative","scale":{"domain":[-4.32,3.56],"nice":false,"zero":false},"axis":{"values":[-4,-2,0,2],"tickCount":6,"title":"Norm. coverage","labelOverlap":false,"titlePadding":0}},
  "color":{"field":"series","type":"nominal","scale":{"domain":["MESH","LHR","SHIP","LHP"],"range":["#1f77b4","#d62728","#ff7f0e","#000000"]},
   "legend":{"orient":"none","legendX":7,"legendY":-1,"columns":2,"title":null,"symbolType":"stroke","symbolSize":196,"symbolStrokeWidth":1.6,"labelFontSize":8,"labelOffset":6,"columnPadding":16,"rowPadding":0,"padding":0,"labelColor":"black"}}
 }},
{"transform":[{"filter":"!datum.kind && datum.series == 'LHP'"}],
 "mark":{"type":"line","strokeWidth":2,"strokeJoin":"round"},
 "encoding":{
  "x":{"field":"year","type":"quantitative"},
  "y":{"field":"value","type":"quantitative"},
  "color":{"field":"series","type":"nominal"}
 }},
{"transform":[{"filter":"datum.kind == 'trend' && datum.sig"}],
 "mark":{"type":"line","strokeWidth":2.2,"strokeDash":[2.5,2.5]},
 "encoding":{
  "x":{"field":"year","type":"quantitative"},
  "y":{"field":"value","type":"quantitative"},
  "color":{"field":"series","type":"nominal","legend":null}
 }},
{"transform":[{"filter":"datum.kind == 'trend' && !datum.sig"}],
 "mark":{"type":"line","strokeWidth":1,"strokeDash":[1,1.5]},
 "encoding":{
  "x":{"field":"year","type":"quantitative"},
  "y":{"field":"value","type":"quantitative"},
  "color":{"field":"series","type":"nominal","legend":null}
 }},
{"transform":[{"filter":"datum.kind == 'ann' && datum.series == 'LHR'"}],
 "mark":{"type":"text","align":"left","baseline":"middle","fontSize":7.5,"color":"#000000"},
 "encoding":{"x":{"datum":2004.1,"type":"quantitative"},"y":{"datum":-2.69,"type":"quantitative"},"text":{"value":"LHP"}}},
{"transform":[{"filter":"datum.kind == 'ann' && datum.series == 'LHR'"}],
 "mark":{"type":"text","align":"left","baseline":"middle","fontSize":7.5,"color":"#ff7f0e"},
 "encoding":{"x":{"datum":2011.0,"type":"quantitative"},"y":{"datum":-2.69,"type":"quantitative"},"text":{"value":"SHIP"}}},
{"transform":[{"filter":"datum.kind == 'ann' && datum.series == 'LHR'"}],
 "mark":{"type":"text","align":"left","baseline":"middle","fontSize":7.5,"color":"#d62728"},
 "encoding":{"x":{"datum":1997.5,"type":"quantitative"},"y":{"datum":-3.3,"type":"quantitative"},"text":{"field":"series"}}},
{"transform":[{"filter":"datum.kind == 'ann' && datum.series == 'LHR'"}],
 "mark":{"type":"text","align":"left","baseline":"middle","fontSize":7.5,"color":"#d62728","fontWeight":{"expr":"datum.b1 ? 'bold' : 'normal'"}},
 "encoding":{"x":{"datum":2004.1,"type":"quantitative"},"y":{"datum":-3.3,"type":"quantitative"},"text":{"field":"r1"}}},
{"transform":[{"filter":"datum.kind == 'ann' && datum.series == 'LHR'"}],
 "mark":{"type":"text","align":"left","baseline":"middle","fontSize":7.5,"color":"#d62728","fontWeight":{"expr":"datum.b2 ? 'bold' : 'normal'"}},
 "encoding":{"x":{"datum":2011.0,"type":"quantitative"},"y":{"datum":-3.3,"type":"quantitative"},"text":{"field":"r2"}}},
{"transform":[{"filter":"datum.kind == 'ann' && datum.series == 'MESH'"}],
 "mark":{"type":"text","align":"left","baseline":"middle","fontSize":7.5,"color":"#1f77b4"},
 "encoding":{"x":{"datum":1997.5,"type":"quantitative"},"y":{"datum":-3.86,"type":"quantitative"},"text":{"field":"series"}}},
{"transform":[{"filter":"datum.kind == 'ann' && datum.series == 'MESH'"}],
 "mark":{"type":"text","align":"left","baseline":"middle","fontSize":7.5,"color":"#1f77b4","fontWeight":{"expr":"datum.b1 ? 'bold' : 'normal'"}},
 "encoding":{"x":{"datum":2004.1,"type":"quantitative"},"y":{"datum":-3.86,"type":"quantitative"},"text":{"field":"r1"}}},
{"transform":[{"filter":"datum.kind == 'ann' && datum.series == 'MESH'"}],
 "mark":{"type":"text","align":"left","baseline":"middle","fontSize":7.5,"color":"#1f77b4","fontWeight":{"expr":"datum.b2 ? 'bold' : 'normal'"}},
 "encoding":{"x":{"datum":2011.0,"type":"quantitative"},"y":{"datum":-3.86,"type":"quantitative"},"text":{"field":"r2"}}}
]},
"config":{
 "font":"DejaVu Sans",
 "background":"white",
 "view":{"stroke":"black","strokeWidth":1},
 "axis":{"grid":false,"domainColor":"black","tickColor":"black","labelColor":"black","titleColor":"black","labelFontSize":7.5,"titleFontSize":8.5,"titleFontWeight":"normal","tickSize":3.5,"labelPadding":1.5,"titlePadding":2}
}
}
